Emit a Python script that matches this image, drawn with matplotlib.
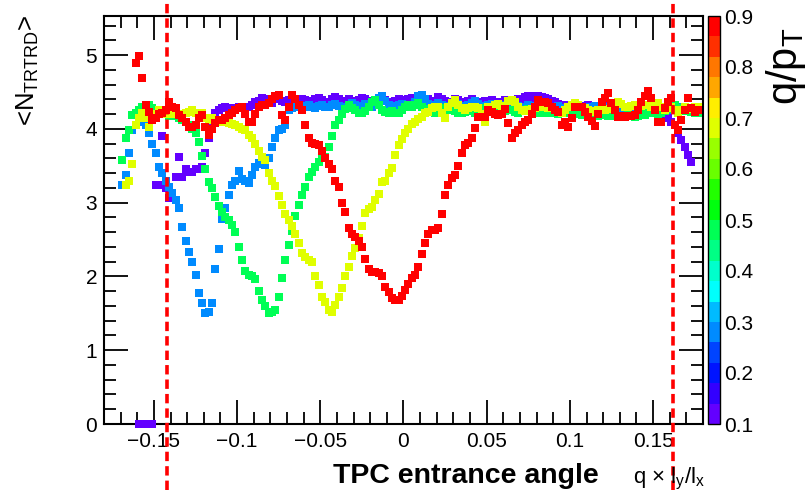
import numpy as np
import matplotlib
matplotlib.use("Agg")
import matplotlib.pyplot as plt
import colorsys
from matplotlib.colors import ListedColormap, BoundaryNorm
from matplotlib.ticker import MultipleLocator, FixedLocator

plt.rcParams['font.family'] = ['Liberation Sans', 'DejaVu Sans']
plt.rcParams['mathtext.fontset'] = 'custom'
plt.rcParams['mathtext.rm'] = 'Liberation Sans'
plt.rcParams['mathtext.it'] = 'Liberation Sans'

# ---------------- data ----------------
bin_width = 0.002
x_first_center = -0.179
n_bins = 180

qpt_values = [0.12, 0.28, 0.48, 0.68, 0.88]

purple_start = 10
purple_vals = [0, 0, 0, 0, 0,
               3.24, 3.24, 3.90, 3.20, 3.06, 3.13, 3.35, 3.62, 3.35, 3.45,
               3.42, 3.42, 3.45, 3.45, 3.48, 3.67, 3.87, 4.10, 4.22,
               4.26, 4.28, 4.30, 4.26, 4.28, 4.27, 4.29, 4.30, 4.26, 4.30, 4.33, 4.36,
               4.38, 4.42, 4.40, 4.37, 4.35, 4.40, 4.42, 4.38, 4.36, 4.39, 4.37, 4.40,
               4.38, 4.41, 4.39, 4.36, 4.38, 4.40, 4.42, 4.39, 4.37, 4.36, 4.40, 4.43,
               4.41, 4.38, 4.37, 4.40, 4.38, 4.36, 4.39, 4.42, 4.40, 4.38, 4.37, 4.39,
               4.41, 4.43, 4.39, 4.37, 4.36, 4.38, 4.40, 4.39, 4.37, 4.40, 4.42, 4.38,
               4.36, 4.39, 4.41, 4.40, 4.37, 4.38, 4.43, 4.41, 4.38, 4.36, 4.37, 4.40,
               4.39, 4.37, 4.35, 4.38, 4.40, 4.36, 4.34, 4.36, 4.38, 4.37, 4.39, 4.36,
               4.34, 4.37, 4.39, 4.36, 4.35, 4.38, 4.40, 4.41, 4.43, 4.44, 4.42, 4.44,
               4.45, 4.43, 4.42, 4.40, 4.38, 4.36, 4.34, 4.32, 4.30, 4.33, 4.31, 4.34,
               4.32, 4.30, 4.31, 4.33, 4.30, 4.28, 4.31, 4.29, 4.32, 4.30, 4.28, 4.30,
               4.29, 4.31, 4.28, 4.30, 4.27, 4.29, 4.28, 4.30, 4.26, 4.28, 4.27, 4.25,
               4.24, 4.22, 4.20, 4.15, 4.10,
               4.05, 3.95, 3.85, 3.75, 3.65, 3.55]

blue_start = 5
blue_vals = [3.24, 3.37, 3.67, 3.98, 4.05, 4.12, 4.10, 4.05, 3.95, 3.79,
             3.67, 3.48, 3.40, 3.30, 3.21, 3.13, 3.03, 2.93, 2.67, 2.48,
             2.33, 2.20, 2.02, 1.77, 1.64, 1.50, 1.52, 1.64, 2.10, 2.37,
             2.78, 2.93, 3.10, 3.24, 3.30, 3.43, 3.32, 3.30, 3.27, 3.37,
             3.48, 3.54, 3.52, 3.51, 3.60, 3.75, 3.88, 3.98, 4.00, 4.05, 4.25,
             4.28, 4.30, 4.32, 4.31, 4.29, 4.33, 4.30, 4.28, 4.31, 4.33, 4.30, 4.29,
             4.32, 4.34, 4.31, 4.29, 4.30, 4.33, 4.35, 4.32, 4.30, 4.31, 4.34, 4.32,
             4.30, 4.36, 4.42, 4.45, 4.38, 4.33, 4.31, 4.30, 4.32, 4.34, 4.31, 4.29,
             4.31, 4.36, 4.44, 4.46, 4.40, 4.34, 4.31, 4.33, 4.35, 4.32, 4.30, 4.31,
             4.33, 4.36, 4.34, 4.31, 4.29, 4.32, 4.35, 4.38, 4.34, 4.31, 4.30, 4.32,
             4.34, 4.31, 4.29, 4.30, 4.33, 4.36, 4.33, 4.30, 4.31, 4.29, 4.30, 4.32,
             4.31, 4.29, 4.28, 4.30, 4.32, 4.29, 4.27, 4.29, 4.31, 4.28, 4.27, 4.29,
             4.30, 4.28, 4.26, 4.28, 4.30, 4.27, 4.29, 4.31, 4.28, 4.26, 4.28, 4.30,
             4.28, 4.27, 4.29, 4.26, 4.28, 4.30, 4.27, 4.25, 4.27, 4.29, 4.28, 4.26,
             4.28, 4.30, 4.27, 4.25, 4.27, 4.29, 4.26, 4.28, 4.30, 4.27, 4.25, 4.27,
             4.26, 4.24, 4.22]

green_start = 5
green_vals = [3.58, 3.87, 3.98, 4.19, 4.21, 4.25, 4.30, 4.32, 4.32, 4.28,
              4.25, 4.22, 4.20, 4.20, 4.18, 4.19, 4.18, 4.15, 4.12, 4.10,
              4.05, 4.00, 3.94, 3.82, 3.63, 3.46, 3.28, 3.20, 3.08, 2.96,
              2.87, 2.80, 2.77, 2.70, 2.60, 2.40, 2.22, 2.07, 2.02, 2.00,
              1.96, 1.80, 1.68, 1.60, 1.50, 1.52, 1.54, 1.72, 1.98, 2.22,
              2.42, 2.62, 2.82, 2.97, 3.10, 3.21, 3.35, 3.42, 3.48, 3.55,
              3.60, 3.62, 3.75, 3.90, 4.05, 4.12, 4.20, 4.27, 4.32,
              4.28, 4.25, 4.22, 4.21, 4.24, 4.30, 4.37, 4.39, 4.33, 4.26, 4.23, 4.22,
              4.24, 4.22, 4.21, 4.25, 4.30, 4.32, 4.29, 4.33, 4.35, 4.30, 4.26, 4.27,
              4.24, 4.22, 4.26, 4.28, 4.25, 4.27, 4.26, 4.24, 4.22, 4.21, 4.23, 4.25,
              4.24, 4.22, 4.26, 4.28, 4.27, 4.24, 4.23, 4.25, 4.24, 4.22, 4.24, 4.26,
              4.25, 4.23, 4.22, 4.24, 4.26, 4.27, 4.25, 4.22, 4.21, 4.23, 4.22, 4.24,
              4.22, 4.21, 4.20, 4.22, 4.21, 4.23, 4.22, 4.20, 4.21, 4.19, 4.20, 4.22,
              4.21, 4.19, 4.18, 4.20, 4.19, 4.17, 4.18, 4.19, 4.17, 4.16, 4.18, 4.19,
              4.17, 4.16, 4.18, 4.20, 4.19, 4.21, 4.23, 4.22, 4.20, 4.21, 4.24, 4.27,
              4.30, 4.32, 4.28, 4.25, 4.24, 4.26, 4.23, 4.22, 4.21]

yellow_start = 6
yellow_vals = [3.24, 3.30, 3.52, 4.05, 4.15, 4.22, 4.15, 4.02, 4.12, 4.20,
               4.25, 4.22, 4.20, 4.22, 4.20, 4.22, 4.20, 4.18, 4.22, 4.23,
               4.25, 4.22, 4.20, 4.22, 4.15, 4.12, 4.15, 4.12,
               4.10, 4.10, 4.10, 4.08, 4.06, 4.05, 4.02, 4.00, 3.98, 3.92,
               3.88, 3.80, 3.70, 3.62, 3.58, 3.40, 3.30, 3.22, 3.09, 2.97,
               2.85, 2.76, 2.68, 2.58, 2.45, 2.32, 2.27, 2.22, 2.20, 2.00,
               1.88, 1.72, 1.65, 1.55, 1.52, 1.61, 1.72, 1.84, 2.00, 2.13,
               2.28, 2.38, 2.52, 2.68, 2.86, 2.92, 2.94, 3.04, 3.12, 3.28,
               3.30, 3.40, 3.47, 3.64, 3.78, 3.86, 3.94, 4.00, 4.06, 4.10,
               4.14, 4.16, 4.21, 4.23, 4.28, 4.30, 4.30, 4.22, 4.15, 4.30,
               4.35, 4.39, 4.32, 4.28, 4.25, 4.28, 4.30, 4.30, 4.28, 4.20,
               4.09, 4.30,
               4.30, 4.32, 4.34, 4.31, 4.30, 4.38, 4.39, 4.36, 4.30, 4.25, 4.24, 4.25,
               4.27, 4.28, 4.30, 4.32, 4.30, 4.28, 4.29, 4.26, 4.23, 4.22, 4.26, 4.30,
               4.32, 4.35, 4.33, 4.30, 4.28, 4.25, 4.23, 4.24, 4.25, 4.26, 4.25, 4.27,
               4.30, 4.33, 4.36, 4.34, 4.30, 4.29, 4.31, 4.32, 4.30, 4.31, 4.33, 4.32,
               4.30, 4.33, 4.35, 4.30, 4.26, 4.28, 4.30, 4.25, 4.21, 4.26, 4.30, 4.28,
               4.27, 4.29, 4.30]

red_start = 9
red_vals = [4.89, 4.99, 4.69, 4.32, 4.23, 4.12, 4.15, 4.20, 4.21, 4.25,
            4.36, 4.30, 4.28, 4.19, 4.15, 4.10, 4.03, 4.02, 4.05, 4.15,
            4.19, 4.02, 3.92, 4.00, 4.08, 4.12, 4.12, 4.15, 4.19, 4.22,
            4.25, 4.28, 4.30, 4.20, 4.09, 4.09, 4.20, 4.30, 4.32, 4.33,
            4.35, 4.40, 4.44, 4.46, 4.19, 4.12, 4.30, 4.46, 4.40, 4.32,
            4.25, 4.05, 3.88, 3.81, 3.80, 3.78, 3.70, 3.60, 3.52, 3.45,
            3.30, 3.21, 3.00, 2.87, 2.65, 2.58, 2.53, 2.48, 2.40, 2.24,
            2.10, 2.06, 2.06, 2.04, 2.00, 1.86, 1.79, 1.71, 1.68, 1.68,
            1.74, 1.82, 1.90, 1.98, 2.02, 2.13, 2.30, 2.45, 2.58, 2.63,
            2.63, 2.65, 2.85, 3.10, 3.24, 3.33, 3.38, 3.50, 3.67, 3.78,
            3.81, 3.88, 4.01, 4.16, 4.16, 4.16, 4.25, 4.23, 4.20, 4.19,
            4.20, 4.27, 4.08, 3.88, 3.95, 3.98, 4.05, 4.10, 4.12, 4.20,
            4.30, 4.39, 4.37, 4.36, 4.35, 4.30, 4.25, 4.23, 4.05, 4.09,
            4.02, 4.15, 4.30, 4.30, 4.30, 4.23, 4.16, 4.11, 4.04, 4.20,
            4.36, 4.42, 4.48, 4.35, 4.25, 4.16, 4.17, 4.16, 4.17, 4.18,
            4.19, 4.25, 4.36, 4.45, 4.51, 4.42, 4.25, 4.09, 4.09, 4.28,
            4.36, 4.42, 4.05, 3.98, 4.12, 4.25, 4.42, 4.28, 4.23, 4.25]

series = [(purple_start, purple_vals), (blue_start, blue_vals), (green_start, green_vals),
          (yellow_start, yellow_vals), (red_start, red_vals)]

cut_lines = [-0.142, 0.162]

# ---------------- palette (ROOT "pretty" palette, 20 contours) ----------------
zmin, zmax, ncont = 0.1, 0.9, 20
pal50 = []
for i in range(49):
    hue = 280 - (i + 1) * (280.0 / 50)
    r, g, b = colorsys.hls_to_rgb((hue % 360) / 360.0, 0.5, 1.0)
    pal50.append((r, g, b))
pal50.append((1.0, 0.0, 0.0))
band_colors = [pal50[int((k + 0.99) * 50 / ncont)] for k in range(ncont)]
cmap = ListedColormap(band_colors)
bounds = np.linspace(zmin, zmax, ncont + 1)
norm = BoundaryNorm(bounds, ncont)

# ---------------- figure ----------------
W, H = 811, 490
fig = plt.figure(figsize=(W / 100, H / 100), dpi=100)
ax = fig.add_axes([104 / W, 66 / H, 599 / W, 408 / H])
cax = fig.add_axes([708 / W, 66 / H, 12 / W, 408 / H])

x_centers = x_first_center + bin_width * np.arange(n_bins)
for q, (start, vals) in zip(qpt_values, series):
    xs = x_centers[start:start + len(vals)]
    ax.plot(xs, vals[:len(xs)], 's', ms=5.7, mew=0, color=cmap(norm(q)), clip_on=False, zorder=3)

for xc in cut_lines:
    ax.axvline(xc, ymin=-66 / 408, ymax=1 + 16 / 408, color='#ff0000', lw=2.6,
               ls=(0, (2.6, 1.4)), clip_on=False, zorder=5)

ax.set_xlim(-0.18, 0.18)
ax.set_ylim(0, 5.53)
ax.xaxis.set_major_locator(FixedLocator([-0.15, -0.1, -0.05, 0, 0.05, 0.1, 0.15]))
ax.xaxis.set_minor_locator(MultipleLocator(0.01))
ax.yaxis.set_major_locator(MultipleLocator(1))
ax.yaxis.set_minor_locator(MultipleLocator(0.2))
ax.set_xticklabels(['\u22120.15', '\u22120.1', '\u22120.05', '0', '0.05', '0.1', '0.15'])
ax.tick_params(which='both', direction='in', top=True, right=True, labelsize=15,
               width=1.3, color='black')
ax.tick_params(which='major', length=17)
ax.tick_params(which='minor', length=8.5)
ax.tick_params(axis='x', pad=6)
ax.tick_params(axis='y', pad=5)
for sp in ax.spines.values():
    sp.set_linewidth(1.5)

# colorbar
cb = fig.colorbar(matplotlib.cm.ScalarMappable(norm=norm, cmap=cmap), cax=cax,
                  ticks=[0.1, 0.2, 0.3, 0.4, 0.5, 0.6, 0.7, 0.8, 0.9])
cb.outline.set_linewidth(1.0)
cax.tick_params(length=0, labelsize=15, pad=3)
cax.set_yticklabels(['0.1', '0.2', '0.3', '0.4', '0.5', '0.6', '0.7', '0.8', '0.9'])
cax.minorticks_off()

# titles
fig.text(333 / W, 1 - 483 / H, 'TPC entrance angle', fontsize=20.5, fontweight='bold',
         ha='left', va='baseline')
fig.text(633 / W, 1 - 483 / H, 'q \u00d7 l$_\\mathregular{y}$/l$_\\mathregular{x}$',
         fontsize=16, ha='left', va='baseline')
fig.text(28 / W, 1 - 15 / H, '<N$_\\mathregular{TRTRD}$>', fontsize=18.5, rotation=90,
         ha='center', va='top')
fig.text(786 / W, 1 - 28 / H, 'q/p$_\\mathregular{T}$', fontsize=30, rotation=90,
         ha='center', va='top')

fig.savefig('out.png', dpi=100)
